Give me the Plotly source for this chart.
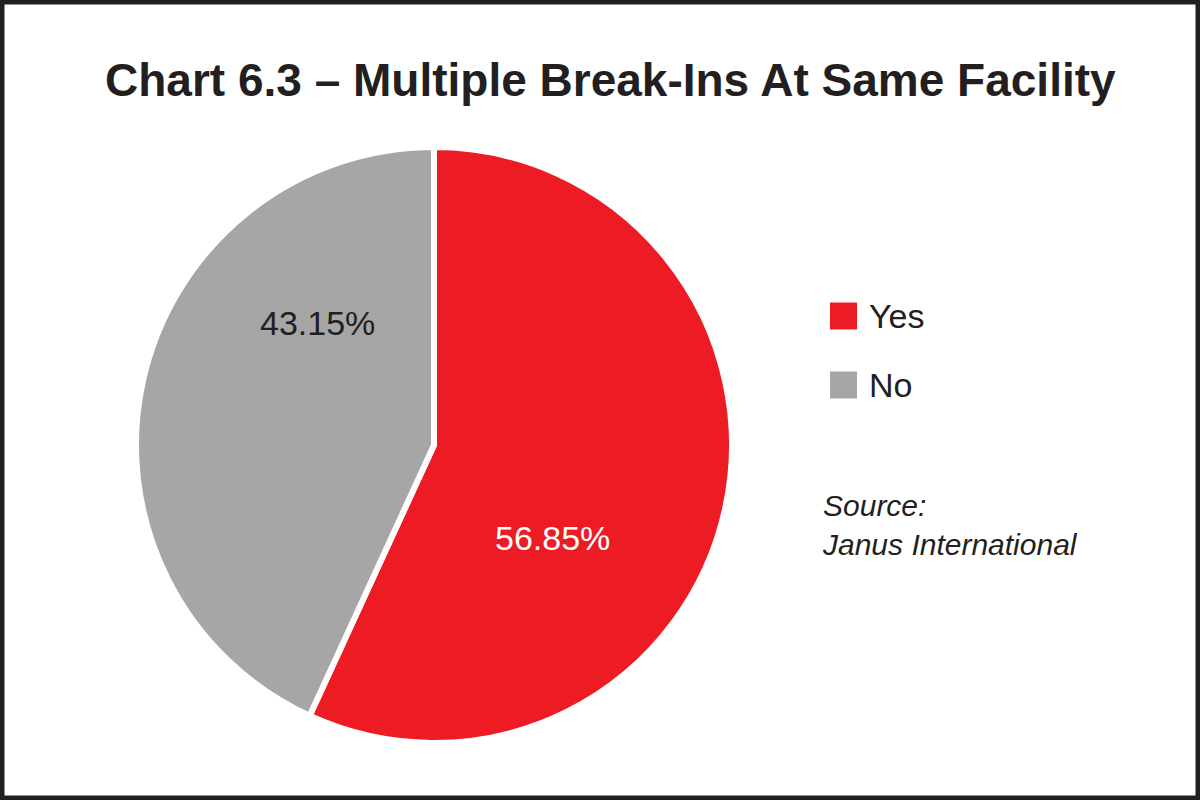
import plotly.graph_objects as go

categories = ["Yes", "No"]
values = [56.85, 43.15]
colors = ["#ED1C24", "#A6A6A6"]
label_colors = ["#FFFFFF", "#231F20"]
title_text = "Chart 6.3 – Multiple Break-Ins At Same Facility"
source_lines = ["Source:", "Janus International"]

W, H = 1200, 800
cx, cy, r = 434, 445, 298

fig = go.Figure()
fig.add_trace(go.Pie(
    labels=categories, values=values, sort=False, direction="clockwise", rotation=0,
    marker=dict(colors=colors, line=dict(color="white", width=6)),
    textinfo="none", hoverinfo="label+percent", showlegend=False,
    domain=dict(x=[(cx - r) / W, (cx + r) / W], y=[(H - cy - r) / H, (H - cy + r) / H]),
))

# percent labels
label_pos = {"Yes": (552, 538), "No": (317, 323)}
for cat, val, lc in zip(categories, values, label_colors):
    px, py = label_pos[cat]
    fig.add_annotation(x=px / W, y=1 - py / H, xref="paper", yref="paper",
                       text=f"{val:.2f}%", showarrow=False, xanchor="center", yanchor="middle",
                       font=dict(family="Liberation Sans, Arial", size=34, color=lc))

# legend
legend_y = [316, 385]
for cat, col, ly in zip(categories, colors, legend_y):
    fig.add_shape(type="rect", xref="paper", yref="paper",
                  x0=830 / W, x1=857 / W, y0=1 - (ly + 13.5) / H, y1=1 - (ly - 13.5) / H,
                  fillcolor=col, line=dict(width=0))
    fig.add_annotation(x=867 / W, y=1 - ly / H, xref="paper", yref="paper", text=cat,
                       showarrow=False, xanchor="left", yanchor="middle",
                       font=dict(family="Liberation Sans, Arial", size=34, color="#231F20"))

fig.add_annotation(x=820 / W, y=1 - 525 / H, xref="paper", yref="paper",
                   text="<i>" + "<br>".join(source_lines) + "</i>", showarrow=False,
                   xanchor="left", yanchor="middle", align="left",
                   font=dict(family="Liberation Sans, Arial", size=30, color="#231F20"))

fig.add_annotation(x=0.5 + 10 / W, y=1 - 80 / H, xref="paper", yref="paper",
                   text="<b>" + title_text + "</b>", showarrow=False,
                   xanchor="center", yanchor="middle",
                   font=dict(family="Liberation Sans, Arial", size=46, color="#231F20"))

# frame
fig.add_shape(type="rect", xref="paper", yref="paper", x0=0, x1=1, y0=0, y1=1,
              line=dict(color="#231F20", width=9), fillcolor="rgba(0,0,0,0)")

fig.update_layout(width=W, height=H, margin=dict(l=0, r=0, t=0, b=0),
                  paper_bgcolor="white", plot_bgcolor="white")
fig.write_html("out.html", config={"displayModeBar": False},
               post_script="document.body.style.margin='0px';document.body.style.overflow='hidden';")
